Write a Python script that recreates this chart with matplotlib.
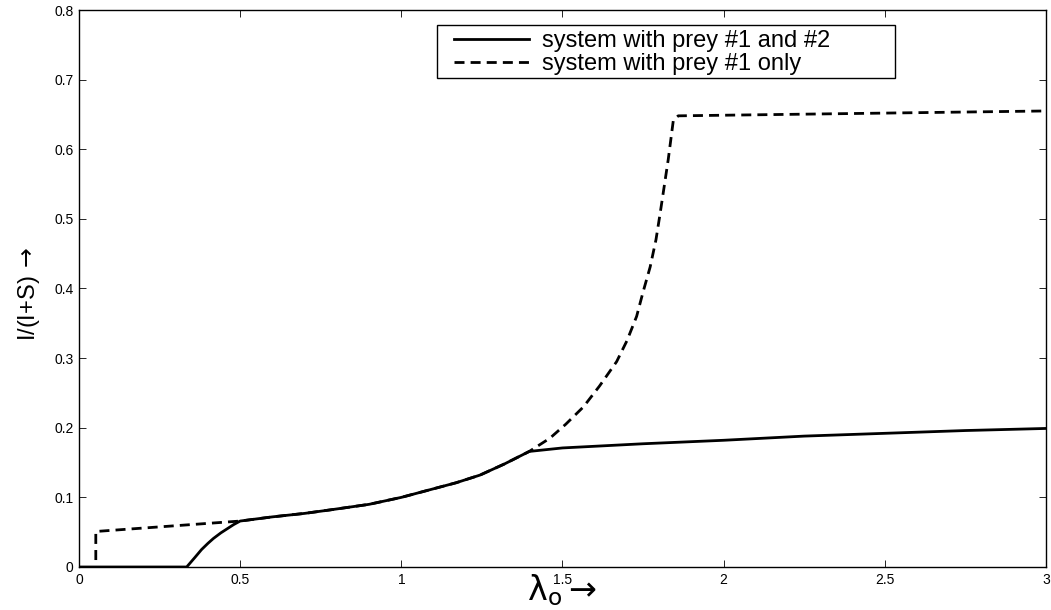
import matplotlib
matplotlib.use("Agg")
import matplotlib.pyplot as plt
from matplotlib.patches import Rectangle

plt.rcParams['font.family'] = ['Liberation Sans', 'DejaVu Sans']

# system with prey #1 and #2 (solid)
both_x = [0, 0.334, 0.36, 0.38, 0.40, 0.417, 0.44, 0.46, 0.48, 0.5, 0.6, 0.7, 0.779,
          0.9, 1.0, 1.089, 1.17, 1.244, 1.32, 1.397, 1.5, 1.75, 2.0, 2.25, 2.5, 2.75, 3.0]
both_y = [0, 0, 0.014, 0.025, 0.034, 0.041, 0.049, 0.055, 0.061, 0.066, 0.072, 0.077, 0.082,
          0.09, 0.1, 0.111, 0.121, 0.132, 0.148, 0.166, 0.171, 0.177, 0.182, 0.188, 0.192,
          0.196, 0.199]

# system with prey #1 only (dashed)
one_x = [0.052, 0.052, 0.5, 0.6, 0.7, 0.779, 0.9, 1.0, 1.089, 1.17, 1.244, 1.32,
         1.397, 1.461, 1.51, 1.565, 1.615, 1.668, 1.70, 1.73, 1.75, 1.772, 1.79, 1.803,
         1.828, 1.844, 1.859, 3.0]
one_y = [0.01, 0.051, 0.066, 0.072, 0.077, 0.082, 0.09, 0.1, 0.111, 0.121, 0.132, 0.148,
         0.166, 0.185, 0.205, 0.230, 0.260, 0.295, 0.325, 0.360, 0.395, 0.431, 0.47, 0.508,
         0.585, 0.642, 0.648, 0.655]

xticks = [0, 0.5, 1, 1.5, 2, 2.5, 3]
xticklabels = ['0', '0.5', '1', '1.5', '2', '2.5', '3']
yticks = [0, 0.1, 0.2, 0.3, 0.4, 0.5, 0.6, 0.7, 0.8]
yticklabels = ['0', '0.1', '0.2', '0.3', '0.4', '0.5', '0.6', '0.7', '0.8']

fig = plt.figure(figsize=(10.51, 6.10), dpi=100)
ax = fig.add_axes([0.0752, 0.0705, 0.92, 0.9131])

ax.plot(one_x, one_y, color='black', linestyle=(0, (3.6, 2.2)), linewidth=2.0,
        label='system with prey #1 only', zorder=2)
ax.plot(both_x, both_y, color='black', linestyle='-', linewidth=2.0,
        label='system with prey #1 and #2', zorder=3)

ax.set_xlim(0, 3)
ax.set_ylim(0, 0.8)
ax.set_xticks(xticks)
ax.set_xticklabels(xticklabels)
ax.set_yticks(yticks)
ax.set_yticklabels(yticklabels)
ax.tick_params(direction='in', length=5, width=0.6, top=True, right=True,
               labelsize=10, pad=4)
for s in ax.spines.values():
    s.set_linewidth(1.0)

ax.set_xlabel(r'$\mathrm{\lambda}_{\mathrm{o}}\rightarrow$', fontsize=24)
ax.xaxis.set_label_coords(0.5, -0.01)
ax.set_ylabel(r'I/(I+S)$\,\rightarrow$', fontsize=17)
ax.yaxis.set_label_coords(-0.038, 0.49)

# legend box like the matlab one (wide right padding)
ax.add_patch(Rectangle((0.370, 0.878), 0.474, 0.095, transform=ax.transAxes,
                       facecolor='white', edgecolor='black', linewidth=1.0, zorder=4))
handles, labels = ax.get_legend_handles_labels()
leg = ax.legend(handles[::-1], labels[::-1], loc='upper left',
                bbox_to_anchor=(0.380, 0.977), fontsize=17, frameon=False,
                handlelength=3.2, borderpad=0.3, labelspacing=0.05,
                handletextpad=0.55, borderaxespad=0)
leg.set_zorder(5)

fig.savefig('out.png', dpi=100)
